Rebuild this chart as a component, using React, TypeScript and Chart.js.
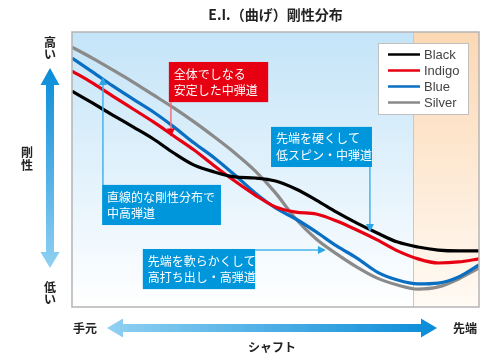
import React, { useEffect, useRef } from "react";
import { Chart, registerables } from "chart.js";

Chart.register(...registerables);

// Shaft position (0 = 手元/butt, 100 = 先端/tip)
const positions = [0, 5, 10, 15, 20, 25, 30, 35, 40, 45, 50, 55, 60, 65, 70, 75, 80, 85, 90, 95, 100];

// Relative stiffness (0 = 低い, 100 = 高い)
const blackValues = [78.5, 74.2, 69.8, 65.5, 61.1, 56.0, 51.6, 49.1, 47.3, 46.9, 45.8, 42.9, 38.9, 34.5, 30.5, 26.9, 23.6, 21.8, 20.7, 20.4, 20.4];
const indigoValues = [85.8, 81.5, 76.7, 72.0, 67.3, 62.2, 57.1, 51.3, 45.8, 40.7, 36.4, 34.5, 33.8, 31.3, 28.0, 24.4, 20.4, 17.5, 16.0, 16.4, 17.5];
const blueValues = [90.5, 85.5, 80.4, 75.6, 70.9, 65.5, 59.6, 54.2, 48.0, 41.5, 36.0, 32.0, 27.3, 22.2, 17.8, 12.7, 9.8, 8.4, 8.7, 10.9, 15.3];
const silverValues = [94.5, 90.5, 86.2, 81.8, 77.1, 72.4, 67.3, 61.8, 56.0, 49.5, 41.5, 32.0, 24.7, 19.3, 14.5, 10.5, 8.0, 6.5, 7.3, 10.2, 14.2];

const seriesNames = ["Black", "Indigo", "Blue", "Silver"];
const seriesColors = ["#000000", "#e60012", "#0a6fc2", "#8a8a8a"];
const seriesValues = [blackValues, indigoValues, blueValues, silverValues];

const titleText = "E.I.（曲げ）剛性分布";
const tipZoneStart = 83.8; // shaft position where the tip zone (peach) begins

const JP = '"Noto Sans CJK JP", "Noto Sans", sans-serif';

type Note = {
  lines: string[];
  fill: string;
  box: [number, number, number, number]; // x1, yTop, x2, yBottom in data units
  from: [number, number];
  to: [number, number];
  lineColor: string;
  headColor: string;
};

const notes: Note[] = [
  {
    lines: ["全体でしなる", "安定した中弾道"],
    fill: "#e60012",
    box: [23.8, 89.1, 48.2, 74.5],
    from: [24.3, 74.5],
    to: [24.3, 62.0],
    lineColor: "#f0707c",
    headColor: "#e60012",
  },
  {
    lines: ["先端を硬くして", "低スピン・中弾道"],
    fill: "#0096db",
    box: [48.9, 65.5, 73.7, 50.9],
    from: [73.2, 50.9],
    to: [73.2, 27.3],
    lineColor: "#45b4ec",
    headColor: "#2aa6e6",
  },
  {
    lines: ["直線的な剛性分布で", "中高弾道"],
    fill: "#0096db",
    box: [7.4, 44.4, 36.6, 29.8],
    from: [7.6, 44.4],
    to: [7.6, 83.6],
    lineColor: "#45b4ec",
    headColor: "#2aa6e6",
  },
  {
    lines: ["先端を軟らかくして", "高打ち出し・高弾道"],
    fill: "#0096db",
    box: [17.4, 21.1, 45.0, 6.5],
    from: [45.0, 20.7],
    to: [62.4, 20.7],
    lineColor: "#45b4ec",
    headColor: "#2aa6e6",
  },
];

function arrowHead(ctx: CanvasRenderingContext2D, x1: number, y1: number, x2: number, y2: number, len: number, half: number, color: string) {
  const a = Math.atan2(y2 - y1, x2 - x1);
  ctx.save();
  ctx.fillStyle = color;
  ctx.beginPath();
  ctx.moveTo(x2, y2);
  ctx.lineTo(x2 - len * Math.cos(a) + half * Math.sin(a), y2 - len * Math.sin(a) - half * Math.cos(a));
  ctx.lineTo(x2 - len * Math.cos(a) - half * Math.sin(a), y2 - len * Math.sin(a) + half * Math.cos(a));
  ctx.closePath();
  ctx.fill();
  ctx.restore();
}

const decorPlugin = {
  id: "decor",
  beforeDatasetsDraw(chart: any) {
    const { ctx, chartArea } = chart;
    const { left, top, right, bottom } = chartArea;
    const xs = chart.scales.x;
    const split = xs.getPixelForValue(tipZoneStart);
    ctx.save();
    const g1 = ctx.createLinearGradient(0, top, 0, bottom);
    g1.addColorStop(0, "#c4e4f8");
    g1.addColorStop(1, "#ffffff");
    ctx.fillStyle = g1;
    ctx.fillRect(left, top, split - left, bottom - top);
    const g2 = ctx.createLinearGradient(0, top, 0, bottom);
    g2.addColorStop(0, "#fcd8b4");
    g2.addColorStop(1, "#fffaf4");
    ctx.fillStyle = g2;
    ctx.fillRect(split, top, right - split, bottom - top);
    ctx.strokeStyle = "#c8c8c8";
    ctx.lineWidth = 1;
    ctx.beginPath();
    ctx.moveTo(Math.round(split) + 0.5, top);
    ctx.lineTo(Math.round(split) + 0.5, bottom);
    ctx.stroke();
    ctx.restore();
  },
  afterDatasetsDraw(chart: any) {
    const { ctx, chartArea } = chart;
    const { left, top, right, bottom } = chartArea;
    const xs = chart.scales.x;
    const ys = chart.scales.y;
    ctx.save();

    // plot border
    ctx.strokeStyle = "#b4b4b4";
    ctx.lineWidth = 1.5;
    ctx.strokeRect(left, top, right - left, bottom - top);

    // annotations
    notes.forEach((n) => {
      const bx1 = xs.getPixelForValue(n.box[0]);
      const by1 = ys.getPixelForValue(n.box[1]);
      const bx2 = xs.getPixelForValue(n.box[2]);
      const by2 = ys.getPixelForValue(n.box[3]);
      const fx = xs.getPixelForValue(n.from[0]);
      const fy = ys.getPixelForValue(n.from[1]);
      const tx = xs.getPixelForValue(n.to[0]);
      const ty = ys.getPixelForValue(n.to[1]);
      ctx.strokeStyle = n.lineColor;
      ctx.lineWidth = 1.5;
      ctx.beginPath();
      ctx.moveTo(fx, fy);
      const a = Math.atan2(ty - fy, tx - fx);
      ctx.lineTo(tx - 6 * Math.cos(a), ty - 6 * Math.sin(a));
      ctx.stroke();
      arrowHead(ctx, fx, fy, tx, ty, 8, 4, n.headColor);

      ctx.fillStyle = n.fill;
      ctx.fillRect(bx1, by1, bx2 - bx1, by2 - by1);
      ctx.fillStyle = "#ffffff";
      ctx.font = `12px ${JP}`;
      ctx.textBaseline = "middle";
      ctx.textAlign = "left";
      const h = by2 - by1;
      n.lines.forEach((t, i) => {
        ctx.fillText(t, bx1 + 5, by1 + h * (i === 0 ? 0.3 : 0.72));
      });
    });

    // legend
    const lx = right - 101;
    const ly = top + 11;
    ctx.fillStyle = "#ffffff";
    ctx.fillRect(lx, ly, 90, 71);
    ctx.strokeStyle = "#c0c0c0";
    ctx.lineWidth = 1;
    ctx.strokeRect(lx + 0.5, ly + 0.5, 90, 71);
    seriesNames.forEach((name, i) => {
      const yy = ly + 11.5 + i * 16;
      ctx.strokeStyle = seriesColors[i];
      ctx.lineWidth = 2.5;
      ctx.beginPath();
      ctx.moveTo(lx + 10, yy);
      ctx.lineTo(lx + 42, yy);
      ctx.stroke();
      ctx.fillStyle = "#444444";
      ctx.font = '13px "Liberation Sans", Arial, sans-serif';
      ctx.textBaseline = "middle";
      ctx.textAlign = "left";
      ctx.fillText(name, lx + 46, yy + 0.5);
    });

    // title
    ctx.fillStyle = "#222222";
    ctx.font = `bold 14px ${JP}`;
    ctx.textAlign = "center";
    ctx.textBaseline = "middle";
    ctx.fillText(titleText, (left + right) / 2, 15);

    // vertical axis arrow
    const ax = 50;
    const gV = ctx.createLinearGradient(0, 68, 0, 268);
    gV.addColorStop(0, "#0a8cd8");
    gV.addColorStop(1, "#90d0f2");
    ctx.fillStyle = gV;
    ctx.fillRect(ax - 4, 84, 8, 169);
    ctx.beginPath();
    ctx.moveTo(ax, 68);
    ctx.lineTo(ax + 9.5, 85);
    ctx.lineTo(ax - 9.5, 85);
    ctx.closePath();
    ctx.fill();
    ctx.beginPath();
    ctx.moveTo(ax, 268);
    ctx.lineTo(ax + 9.5, 252);
    ctx.lineTo(ax - 9.5, 252);
    ctx.closePath();
    ctx.fill();

    // horizontal axis arrow
    const ay = 328;
    const gH = ctx.createLinearGradient(107, 0, 437, 0);
    gH.addColorStop(0, "#90d0f2");
    gH.addColorStop(1, "#0a8cd8");
    ctx.fillStyle = gH;
    ctx.fillRect(122, ay - 4, 300, 8);
    ctx.beginPath();
    ctx.moveTo(107, ay);
    ctx.lineTo(123, ay - 9.5);
    ctx.lineTo(123, ay + 9.5);
    ctx.closePath();
    ctx.fill();
    ctx.beginPath();
    ctx.moveTo(437, ay);
    ctx.lineTo(421, ay - 9.5);
    ctx.lineTo(421, ay + 9.5);
    ctx.closePath();
    ctx.fill();

    // axis labels
    ctx.fillStyle = "#222222";
    ctx.font = `bold 12px ${JP}`;
    ctx.textAlign = "center";
    ctx.fillText("高", 50, 42);
    ctx.fillText("い", 50, 54);
    ctx.fillText("剛", 27, 152);
    ctx.fillText("性", 27, 165);
    ctx.fillText("低", 50, 287);
    ctx.fillText("い", 50, 299);
    ctx.textAlign = "left";
    ctx.fillText("手元", 73, 328);
    ctx.fillText("先端", 453, 328);
    ctx.textAlign = "center";
    ctx.fillText("シャフト", 272, 347);

    ctx.restore();
  },
};

export default function App() {
  const canvasRef = useRef<HTMLCanvasElement | null>(null);

  useEffect(() => {
    if (!canvasRef.current) return;
    const datasets = seriesNames.map((name, i) => ({
      label: name,
      data: positions.map((p, j) => ({ x: p, y: seriesValues[i][j] })),
      borderColor: seriesColors[i],
      backgroundColor: seriesColors[i],
      borderWidth: 3.2,
      pointRadius: 0,
      cubicInterpolationMode: "monotone" as const,
      fill: false,
    }));
    const chart = new Chart(canvasRef.current, {
      type: "line",
      data: { datasets },
      options: {
        responsive: false,
        animation: false,
        layout: { padding: { left: 72, right: 21, top: 32, bottom: 53 } },
        scales: {
          x: { type: "linear", min: 0, max: 100, display: false },
          y: { type: "linear", min: 0, max: 100, display: false },
        },
        plugins: {
          legend: { display: false },
          tooltip: { enabled: false },
          title: { display: false },
        },
      },
      plugins: [decorPlugin],
    });
    return () => chart.destroy();
  }, []);

  return (
    <div style={{ position: "absolute", left: 0, top: 0, width: 500, height: 360, background: "#ffffff" }}>
      <canvas ref={canvasRef} width={500} height={360} />
    </div>
  );
}
